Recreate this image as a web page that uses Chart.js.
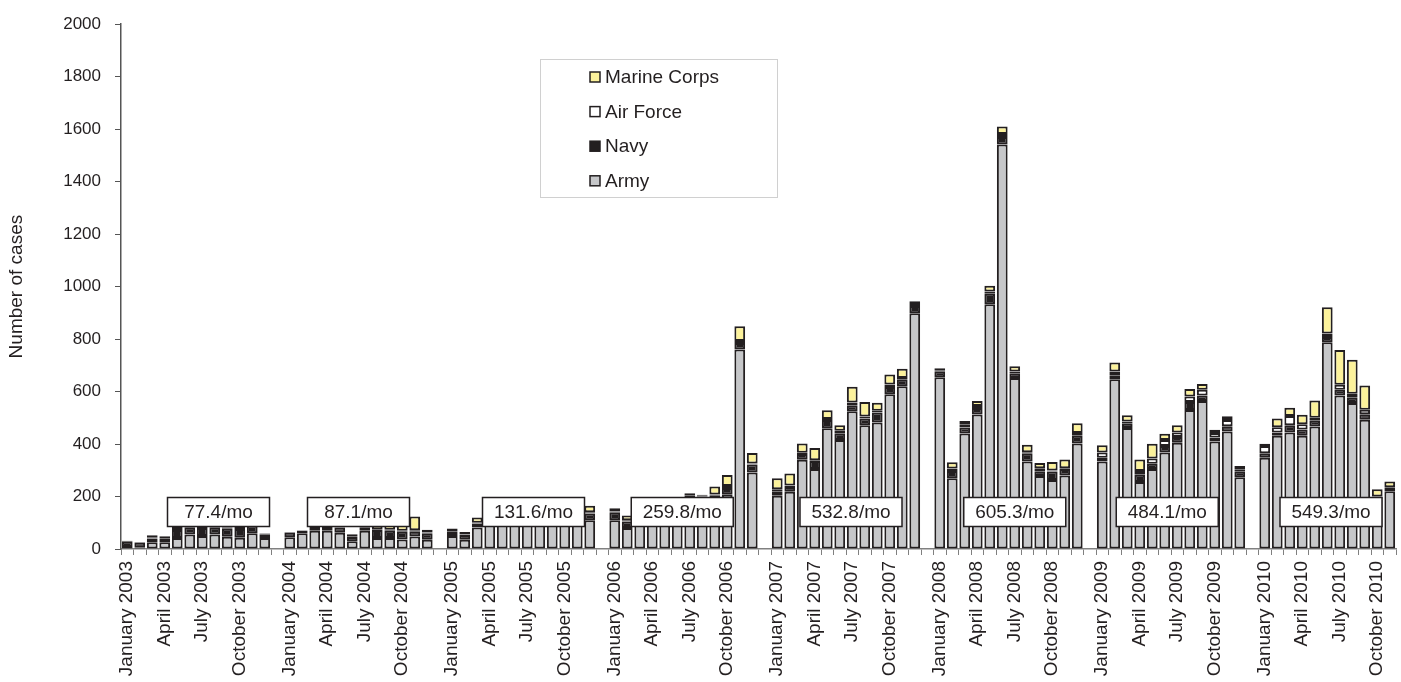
<!DOCTYPE html>
<html><head><meta charset="utf-8">
<script src="https://cdn.jsdelivr.net/npm/chart.js@4.4.1/dist/chart.umd.min.js"></script>
<style>html,body{margin:0;padding:0;background:#fff;}#wrap{width:1401px;height:682px;}</style>
</head><body><div id="wrap"><canvas id="c" width="1401" height="682"></canvas></div>
<script>
// ---------- DATA ----------
const years = [2003, 2004, 2005, 2006, 2007, 2008, 2009, 2010];
const monthsPerYear = [12, 12, 12, 12, 12, 12, 12, 11];
const monthNames = ['January','February','March','April','May','June','July','August','September','October','November','December'];
const labelledMonths = ['January','April','July','October'];
const seriesNames = ['Army', 'Navy', 'Air Force', 'Marine Corps'];

const army = [
  8,5,26,26,42,55,50,55,47,43,60,42,
  45,60,70,70,62,30,70,42,42,36,48,35,
  50,35,82,105,112,115,120,120,115,115,116,110,
  110,80,125,135,140,140,180,175,180,207,760,292,
  203,218,340,305,460,415,525,472,482,590,620,898,
  655,270,440,513,933,1542,652,333,278,263,280,402,
  333,647,461,255,305,368,405,530,564,410,448,273,
  348,432,444,432,467,788,585,556,493,190,220
];
const navy = [
  20,20,14,12,30,28,30,28,30,33,30,12,
  18,10,15,15,20,16,10,30,28,30,20,25,
  15,18,15,12,14,15,15,15,15,15,15,25,
  30,25,20,20,20,20,22,25,25,25,25,30,
  15,18,22,30,32,26,23,25,38,27,27,28,
  22,27,23,24,40,28,18,32,18,32,25,30,
  15,15,16,28,20,25,22,30,21,15,20,23,
  17,12,28,23,22,20,22,20,21,8,12
];
const airForce = [
  3,2,3,3,8,5,8,6,5,4,4,4,
  2,1,3,3,3,3,3,3,3,4,3,3,
  3,2,3,3,4,4,4,4,4,4,4,5,
  3,5,3,3,3,4,3,3,3,8,8,4,
  10,6,5,3,3,10,10,8,7,10,5,4,
  4,10,12,8,8,12,6,4,12,4,3,10,
  20,14,9,14,20,22,17,21,22,17,24,6,
  28,20,35,20,11,13,19,16,17,2,3
];
const marineCorps = [
  0,0,9,8,15,12,12,16,18,20,6,2,
  0,0,2,2,3,7,2,25,27,35,53,10,
  10,10,20,10,10,11,11,11,11,11,11,25,
  12,18,12,12,12,12,7,4,30,42,56,40,
  42,46,35,47,34,21,60,55,30,38,35,14,
  8,24,13,19,22,28,20,28,20,33,33,37,
  27,35,24,44,56,24,28,29,22,12,14,14,
  8,33,31,37,66,100,132,129,92,28,22
];
const yearAverageLabels = ['77.4/mo','87.1/mo','131.6/mo','259.8/mo','532.8/mo','605.3/mo','484.1/mo','549.3/mo'];
const yMin = 0, yMax = 2000, yStep = 200;

// ---------- STYLE / LAYOUT ----------
const seriesColors = ['#c6c7c9', '#231f20', '#ffffff', '#fcf29b'];
const annotOffset = [7.3, 5.5, 6.5, 5.4, 5.9, 6.0, 5.2, 5.3]; // category offset of each label box within its year
const annotCenterValue = 141;
const FONT = '"Liberation Sans", Arial, sans-serif';

// ---------- BUILD CATEGORIES (with a blank slot between years) ----------
const labels = [];
const built = [[], [], [], []];
const src = [army, navy, airForce, marineCorps];
const yearStart = [];
let m = 0;
years.forEach((yr, yi) => {
  yearStart.push(labels.length);
  for (let k = 0; k < monthsPerYear[yi]; k++) {
    labels.push(monthNames[k] + ' ' + yr);
    src.forEach((s, si) => built[si].push(s[m]));
    m++;
  }
  if (yi < years.length - 1) {
    labels.push('');
    built.forEach(b => b.push(null));
  }
});

const datasets = seriesNames.map((name, i) => ({
  label: name,
  data: built[i],
  backgroundColor: seriesColors[i],
  borderColor: '#231f20',
  borderWidth: 2,
  borderSkipped: false,
  barPercentage: 0.86,
  categoryPercentage: 1.0
}));

const overlayPlugin = {
  id: 'overlay',
  afterDatasetsDraw(chart) {
    const ctx = chart.ctx;
    const xs = chart.scales.x, ys = chart.scales.y;
    ctx.save();
    // yearly average boxes
    ctx.font = '19px ' + FONT;
    ctx.textAlign = 'center';
    ctx.textBaseline = 'middle';
    yearAverageLabels.forEach((t, i) => {
      const cx = xs.getPixelForValue(yearStart[i] + annotOffset[i]);
      const cy = ys.getPixelForValue(annotCenterValue);
      const w = 102, h = 29;
      ctx.fillStyle = '#fff';
      ctx.fillRect(cx - w / 2, cy - h / 2, w, h);
      ctx.strokeStyle = '#231f20';
      ctx.lineWidth = 1.5;
      ctx.strokeRect(cx - w / 2, cy - h / 2, w, h);
      ctx.fillStyle = '#231f20';
      ctx.fillText(t, cx, cy + 1);
    });
    // legend
    const lx = 540, ly = 59, lw = 237, lh = 138;
    ctx.fillStyle = '#fff';
    ctx.fillRect(lx, ly, lw, lh);
    ctx.strokeStyle = '#d0d0d0';
    ctx.lineWidth = 1;
    ctx.strokeRect(lx + 0.5, ly + 0.5, lw, lh);
    ctx.textAlign = 'left';
    ctx.font = '19px ' + FONT;
    const ds = chart.data.datasets.slice().reverse();
    ds.forEach((d, k) => {
      const ry = ly + 18 + k * 34.6;
      ctx.fillStyle = d.backgroundColor;
      ctx.fillRect(590, ry - 5, 10, 10);
      ctx.strokeStyle = '#231f20';
      ctx.lineWidth = 1.5;
      ctx.strokeRect(590, ry - 5, 10, 10);
      ctx.fillStyle = '#231f20';
      ctx.fillText(d.label, 605, ry + 1);
    });
    ctx.restore();
  }
};

new Chart(document.getElementById('c'), {
  type: 'bar',
  data: { labels, datasets },
  plugins: [overlayPlugin],
  options: {
    responsive: false,
    devicePixelRatio: 1,
    animation: false,
    layout: { padding: { top: 12, right: 5, left: 0, bottom: 0 } },
    plugins: { legend: { display: false }, tooltip: { enabled: false } },
    scales: {
      x: {
        stacked: true,
        offset: true,
        grid: { display: true, drawOnChartArea: false, drawTicks: true, tickLength: 6, color: '#808080', lineWidth: 1, offset: true },
        border: { display: true, color: '#808080', width: 1.5 },
        ticks: {
          autoSkip: false, minRotation: 90, maxRotation: 90, padding: 6,
          color: '#231f20', font: { family: FONT, size: 19 },
          callback: function (v) {
            const l = this.getLabelForValue(v);
            return labelledMonths.some(mn => l.startsWith(mn + ' ')) ? l : '';
          }
        },
        afterFit: s => { s.height = 133; s.paddingLeft = 0; s.paddingRight = 0; }
      },
      y: {
        stacked: true,
        min: yMin, max: yMax,
        grid: { display: true, drawOnChartArea: false, drawTicks: true, tickLength: 6, color: '#555' },
        border: { display: true, color: '#555', width: 1.5 },
        ticks: { stepSize: yStep, padding: 14, color: '#231f20', font: { family: FONT, size: 17 }, callback: v => String(v) },
        title: { display: true, text: 'Number of cases', color: '#231f20', font: { family: FONT, size: 19 }, padding: { top: 5, bottom: 0 } },
        afterFit: s => { s.width = 121; }
      }
    }
  }
});
</script>
</body></html>
